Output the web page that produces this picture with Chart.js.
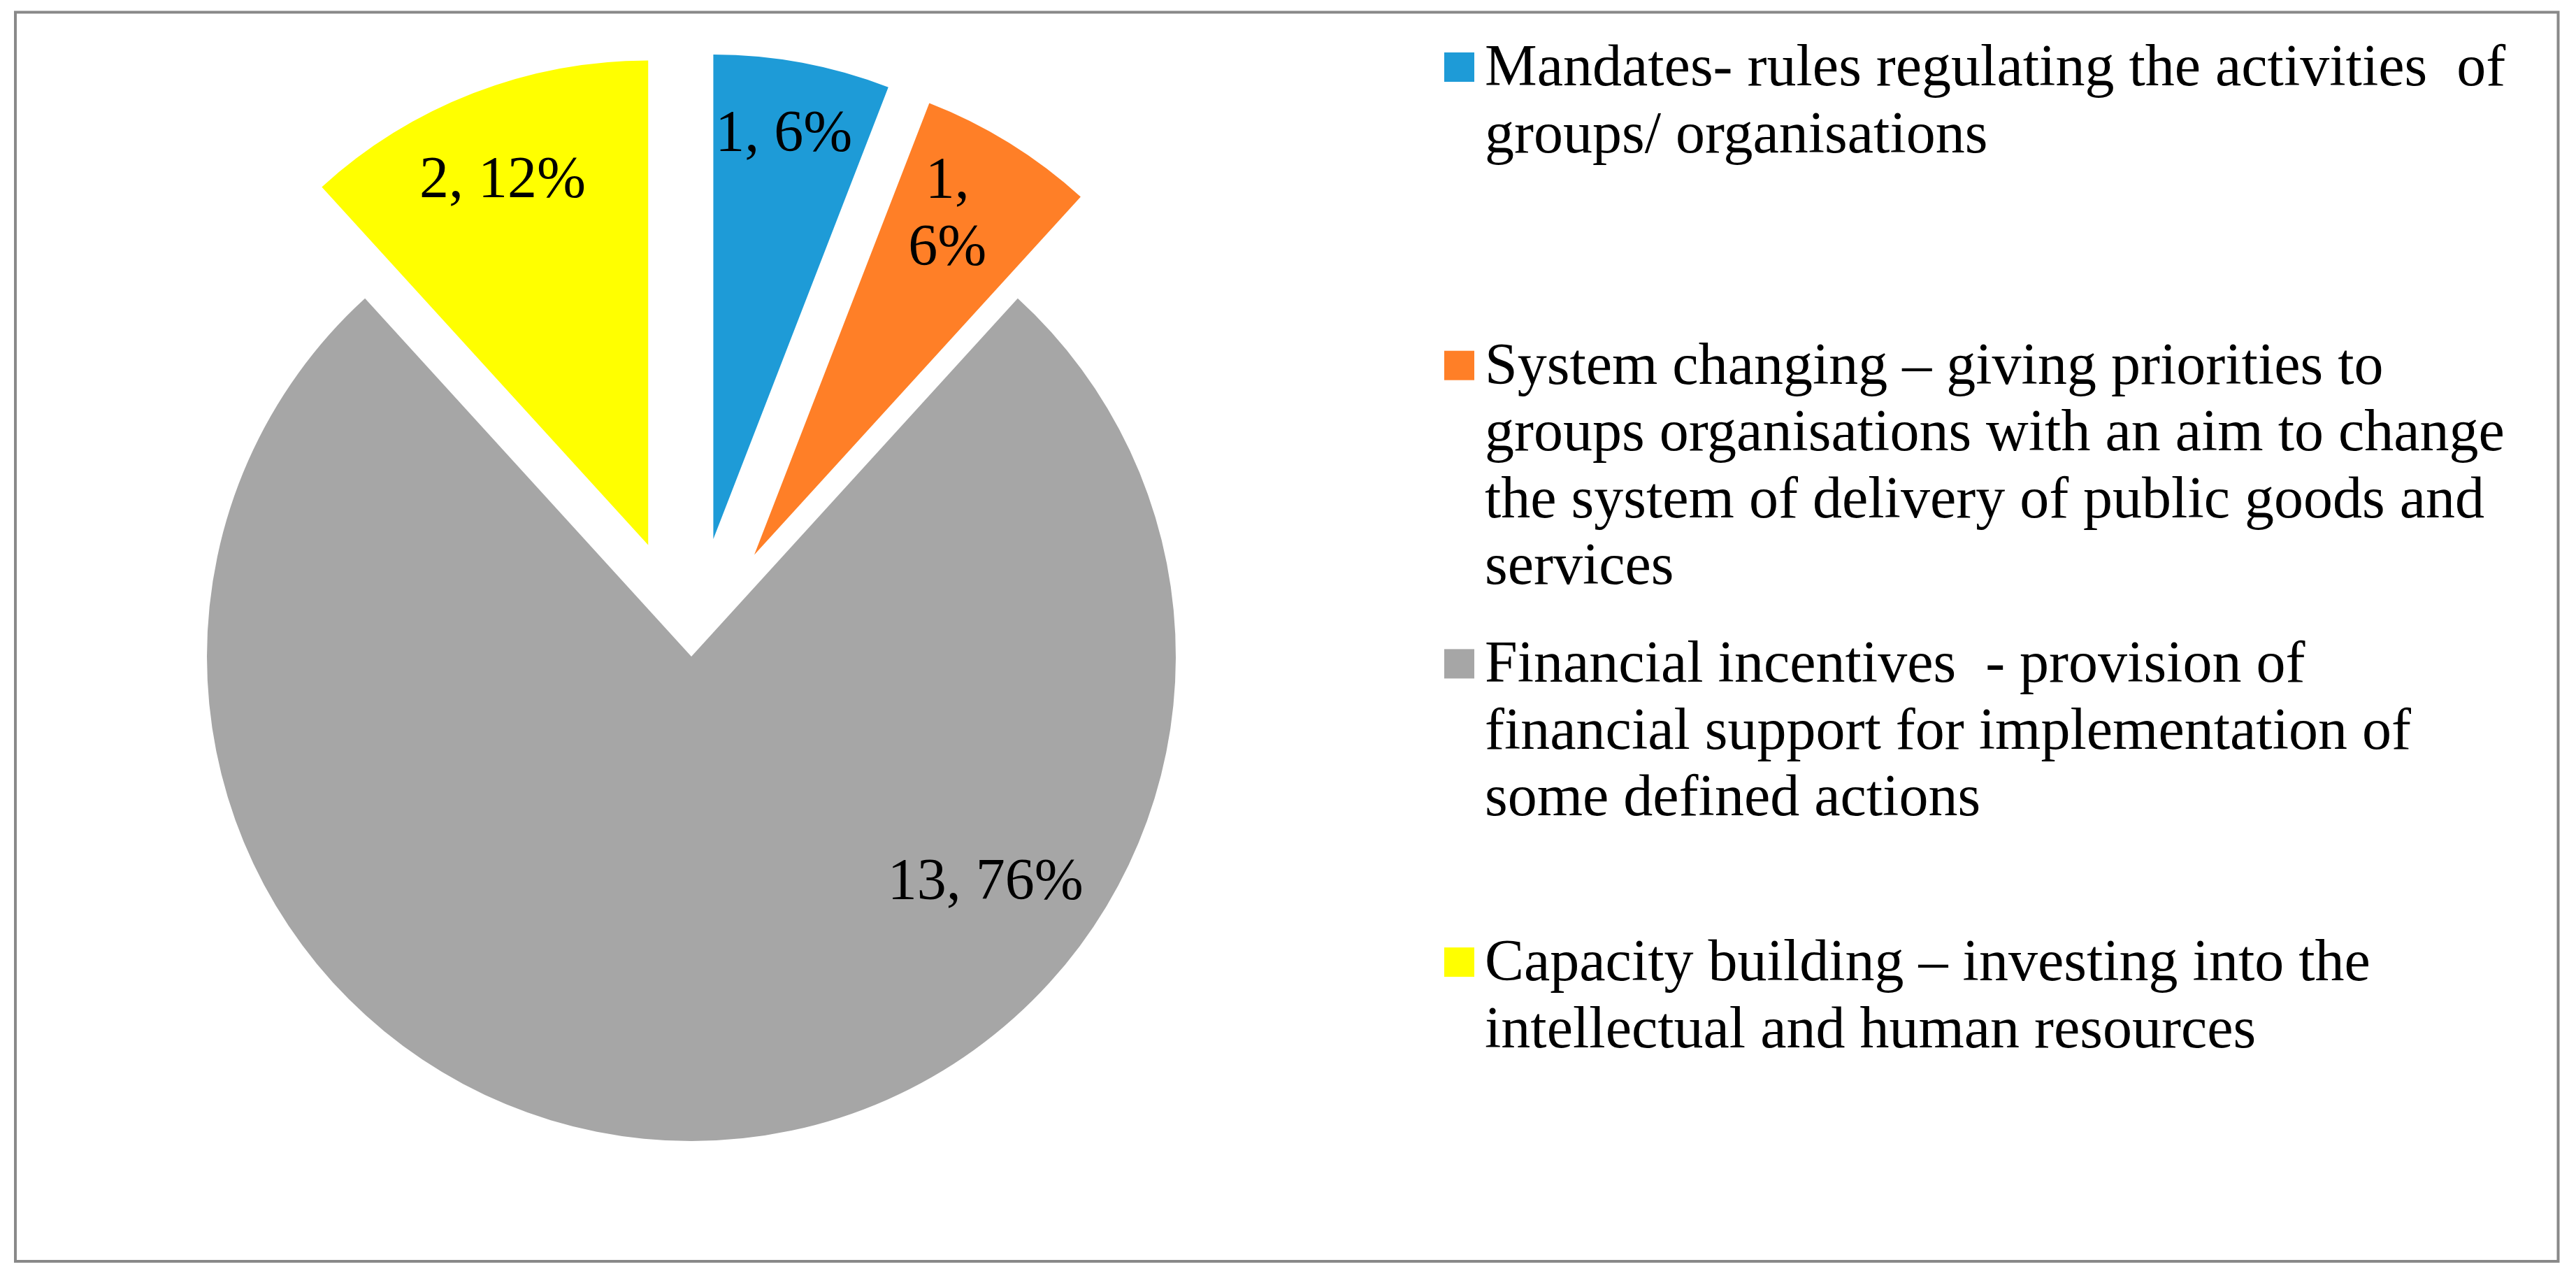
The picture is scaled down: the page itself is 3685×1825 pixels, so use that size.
<!DOCTYPE html>
<html><head><meta charset="utf-8">
<script src="https://cdn.jsdelivr.net/npm/chart.js@4.4.1/dist/chart.umd.min.js"></script>
<style>html,body{margin:0;padding:0;background:#fff;overflow:hidden}canvas{display:block}</style>
</head><body>
<canvas id="c" width="3685" height="1825" style="width:3685px;height:1825px"></canvas>
<script>
// ---- data ----
const categories = [
  ["Mandates- rules regulating the activities  of", "groups/ organisations"],
  ["System changing \u2013 giving priorities to", "groups organisations with an aim to change", "the system of delivery of public goods and", "services"],
  ["Financial incentives  - provision of", "financial support for implementation of", "some defined actions"],
  ["Capacity building \u2013 investing into the", "intellectual and human resources"]
];
const values = [1, 1, 13, 2];

// ---- styles ----
const sliceColors = ["#1E9BD7", "#FF7F27", "#A6A6A6", "#FFFF00"];
const explode = [171, 171, 0, 171];
const labelAngleDeg = [9.8, 29.4, 127.2, -21.6];
const labelRadius = [0.854, 0.812, 0.762, 0.816];
const labelWrap = [false, true, false, false];
const FONT = '84px "Liberation Serif", "Times New Roman", serif';

// exploded slices: translate whole arc along its bisector
const baseArcDraw = Chart.ArcElement.prototype.draw;
Chart.ArcElement.prototype.draw = function (ctx) {
  const ex = this.$explode || 0;
  if (!ex) return baseArcDraw.call(this, ctx);
  const mid = (this.startAngle + this.endAngle) / 2;
  ctx.save();
  ctx.translate(Math.cos(mid) * ex, Math.sin(mid) * ex);
  baseArcDraw.call(this, ctx);
  ctx.restore();
};

const total = values.reduce((a, b) => a + b, 0);

const explodePlugin = {
  id: 'explode',
  beforeDatasetsDraw(chart) {
    chart.getDatasetMeta(0).data.forEach((el, i) => { el.$explode = explode[i]; });
  }
};

const labelPlugin = {
  id: 'pielabels',
  afterDatasetsDraw(chart) {
    const ctx = chart.ctx;
    const meta = chart.getDatasetMeta(0);
    ctx.save();
    ctx.font = FONT;
    ctx.fillStyle = '#000';
    ctx.textAlign = 'center';
    ctx.textBaseline = 'alphabetic';
    meta.data.forEach((el, i) => {
      const mid = (el.startAngle + el.endAngle) / 2;
      const cx = el.x + Math.cos(mid) * explode[i];
      const cy = el.y + Math.sin(mid) * explode[i];
      const a = (labelAngleDeg[i] - 90) * Math.PI / 180;
      const r = labelRadius[i] * el.outerRadius;
      const lx = cx + Math.cos(a) * r;
      const ly = cy + Math.sin(a) * r;
      const pct = Math.round(values[i] / total * 100) + '%';
      const lines = labelWrap[i] ? [values[i] + ',', pct] : [values[i] + ', ' + pct];
      const lh = 96;
      lines.forEach((t, j) => {
        const y = ly + (j - (lines.length - 1) / 2) * lh + 28;
        ctx.fillText(t, lx, y);
      });
    });
    ctx.restore();
  }
};

const legendPlugin = {
  id: 'sidelegend',
  afterDraw(chart) {
    const ctx = chart.ctx;
    ctx.save();
    // outer frame
    ctx.strokeStyle = '#898989';
    ctx.lineWidth = 4;
    ctx.strokeRect(22, 17.5, 3637.5, 1786.5);
    ctx.font = FONT;
    ctx.textAlign = 'left';
    ctx.textBaseline = 'alphabetic';
    categories.forEach((lines, i) => {
      const base = 122 + i * 426.7;
      ctx.fillStyle = sliceColors[i];
      ctx.fillRect(2066, base - 47, 43, 42);
      ctx.fillStyle = '#000';
      lines.forEach((t, j) => ctx.fillText(t, 2124, base + j * 95.5));
    });
    ctx.restore();
  }
};

new Chart(document.getElementById('c'), {
  type: 'pie',
  data: {
    labels: categories,
    datasets: [{
      data: values,
      backgroundColor: sliceColors,
      borderWidth: 0,
      offset: 0
    }]
  },
  options: {
    responsive: false,
    devicePixelRatio: 1,
    animation: false,
    events: [],
    radius: 693,
    rotation: 0,
    layout: { padding: { left: 189, right: 1896, top: 139, bottom: 86 } },
    plugins: { legend: { display: false }, tooltip: { enabled: false } }
  },
  plugins: [explodePlugin, labelPlugin, legendPlugin]
});
</script>
</body></html>
